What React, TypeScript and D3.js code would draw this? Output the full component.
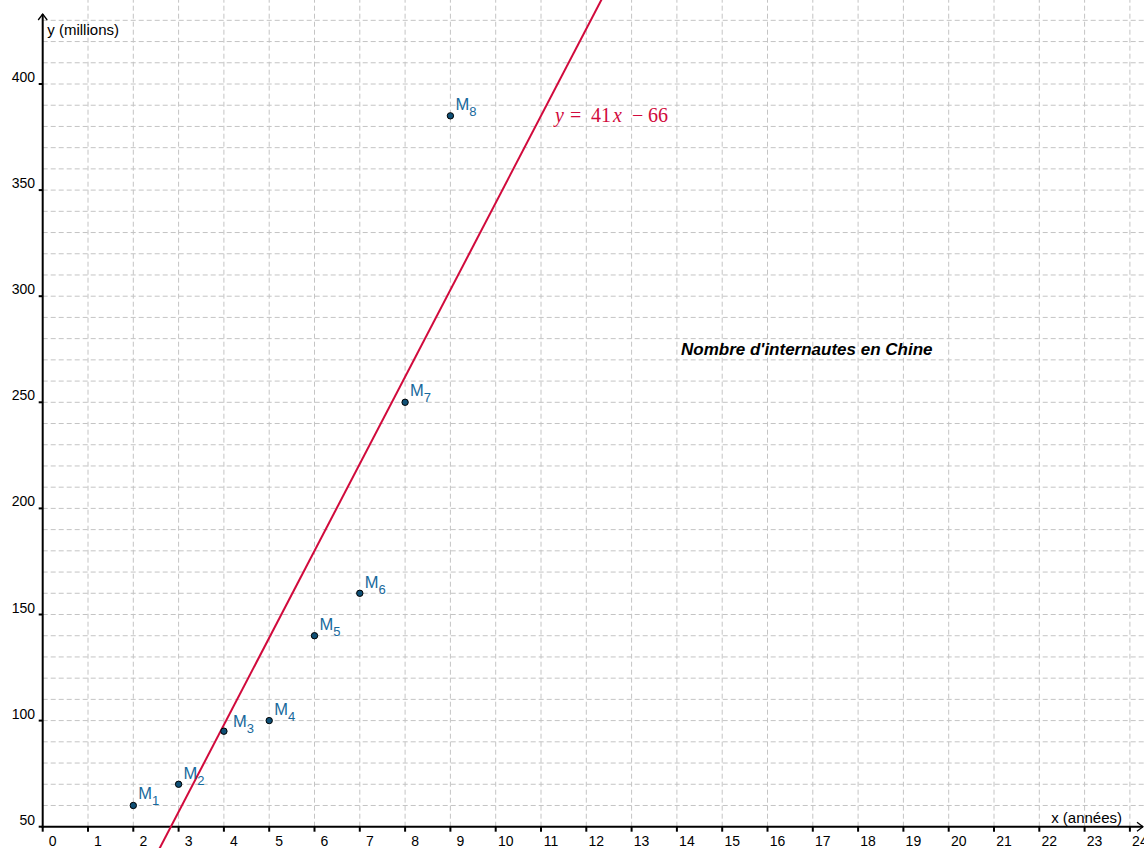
import React from "react";
import * as d3 from "d3";

const W = 1144;
const H = 848;

// data
const pointX = [2, 3, 4, 5, 6, 7, 8, 9];
const pointY = [60, 70, 95, 100, 140, 160, 250, 385];
const pointNames = ["1", "2", "3", "4", "5", "6", "7", "8"];
const xTickValues = d3.range(0, 25);
const yTickValues = [50, 100, 150, 200, 250, 300, 350, 400];
const slope = 41;
const intercept = -66;

const labelOffsets: [number, number][] = [
  [5, -6], [5, -5], [9, -4], [5, -6], [5, -6], [5, -5], [5, -6], [5, -6],
];

const AXIS_FONT = "'Liberation Sans', Arial, Helvetica, sans-serif";
const MATH_FONT = "'Liberation Serif', 'DejaVu Serif', serif";
const RED = "#d10a3c";
const LABEL_BLUE = "#17699c";
const POINT_FILL = "#0f4f75";
const GRID = "#c4c4c4";

export default function App() {
  const x = d3.scaleLinear().domain([0, 24]).range([42.7, 42.7 + 24 * 45.3]);
  const y = d3.scaleLinear().domain([50, 400]).range([826.7, 84]);

  const x0 = x(0);
  const y0 = y(50);

  const hGrid = d3.range(60, 450, 10);
  const vGrid = xTickValues.slice(1);

  const fitLine = d3
    .line<number>()
    .x((d) => x(d))
    .y((d) => y(slope * d + intercept));
  const lineXs = [-1, 26];

  return (
    <svg
      width={W}
      height={H}
      viewBox={`0 0 ${W} ${H}`}
      style={{ position: "absolute", left: 0, top: 0, background: "#fff" }}
    >
      <rect x={0} y={0} width={W} height={H} fill="#fff" />
      {/* grid */}
      <g stroke={GRID} strokeWidth={1} strokeDasharray="5,3" fill="none">
        {hGrid.map((v) => (
          <line key={"h" + v} x1={x0} x2={W} y1={y(v)} y2={y(v)} />
        ))}
        {vGrid.map((v) => (
          <line key={"v" + v} x1={x(v)} x2={x(v)} y1={y0} y2={0} />
        ))}
      </g>

      {/* axes */}
      <g stroke="#000" strokeWidth={2} fill="none">
        <line x1={x0} x2={x0} y1={14} y2={y0 + 1} />
        <line x1={x0 - 1} x2={W - 1} y1={y0} y2={y0} />
        <polyline points={`${x0 - 4.5},${20} ${x0},${14} ${x0 + 4.5},${20}`} strokeWidth={1.3} />
        <polyline points={`${W - 7},${y0 - 4.5} ${W - 1},${y0} ${W - 7},${y0 + 4.5}`} strokeWidth={1.3} />
        {xTickValues.map((v) => (
          <line key={"xt" + v} x1={x(v)} x2={x(v)} y1={y0} y2={y0 + 5} />
        ))}
        {yTickValues.map((v) => (
          <line key={"yt" + v} x1={x0 - 4} x2={x0} y1={y(v)} y2={y(v)} />
        ))}
      </g>

      {/* tick labels */}
      <g fontFamily={AXIS_FONT} fontSize={14} fill="#000">
        {xTickValues.map((v) => (
          <text key={"xl" + v} x={x(v) + 10} y={y0 + 19.5} textAnchor="middle">
            {v}
          </text>
        ))}
        {yTickValues.map((v) => (
          <text key={"yl" + v} x={35} y={y(v) - 2} textAnchor="end">
            {v}
          </text>
        ))}
      </g>

      {/* axis titles */}
      <text x={47.3} y={34.5} fontFamily={AXIS_FONT} fontSize={15} fill="#000">
        y (millions)
      </text>
      <text x={1122} y={823} fontFamily={AXIS_FONT} fontSize={15} fill="#000" textAnchor="end">
        x (années)
      </text>

      {/* regression line */}
      <path d={fitLine(lineXs) || ""} stroke={RED} strokeWidth={2} fill="none" />
      <text y={122} fontFamily={MATH_FONT} fontSize={20} fill={RED}>
        <tspan x={555} fontStyle="italic">y</tspan>
        <tspan x={570}>=</tspan>
        <tspan x={591}>41</tspan>
        <tspan x={613} fontStyle="italic">x</tspan>
        <tspan x={632}>−</tspan>
        <tspan x={648}>66</tspan>
      </text>

      {/* points */}
      {pointX.map((px, i) => {
        const cx = x(px);
        const cy = y(pointY[i]);
        const [dx, dy] = labelOffsets[i];
        return (
          <g key={"p" + i}>
            <circle cx={cx} cy={cy} r={3.2} fill={POINT_FILL} stroke="#000" strokeWidth={1} />
            <text x={cx + dx} y={cy + dy} fontFamily={AXIS_FONT} fontSize={16.5} fill={LABEL_BLUE}>
              M
              <tspan fontSize={13} dy={6}>
                {pointNames[i]}
              </tspan>
            </text>
          </g>
        );
      })}

      {/* title */}
      <text
        x={681}
        y={355}
        fontFamily={AXIS_FONT}
        fontSize={17}
        fontWeight="bold"
        fontStyle="italic"
        fill="#000"
      >
        Nombre d'internautes en Chine
      </text>
    </svg>
  );
}
